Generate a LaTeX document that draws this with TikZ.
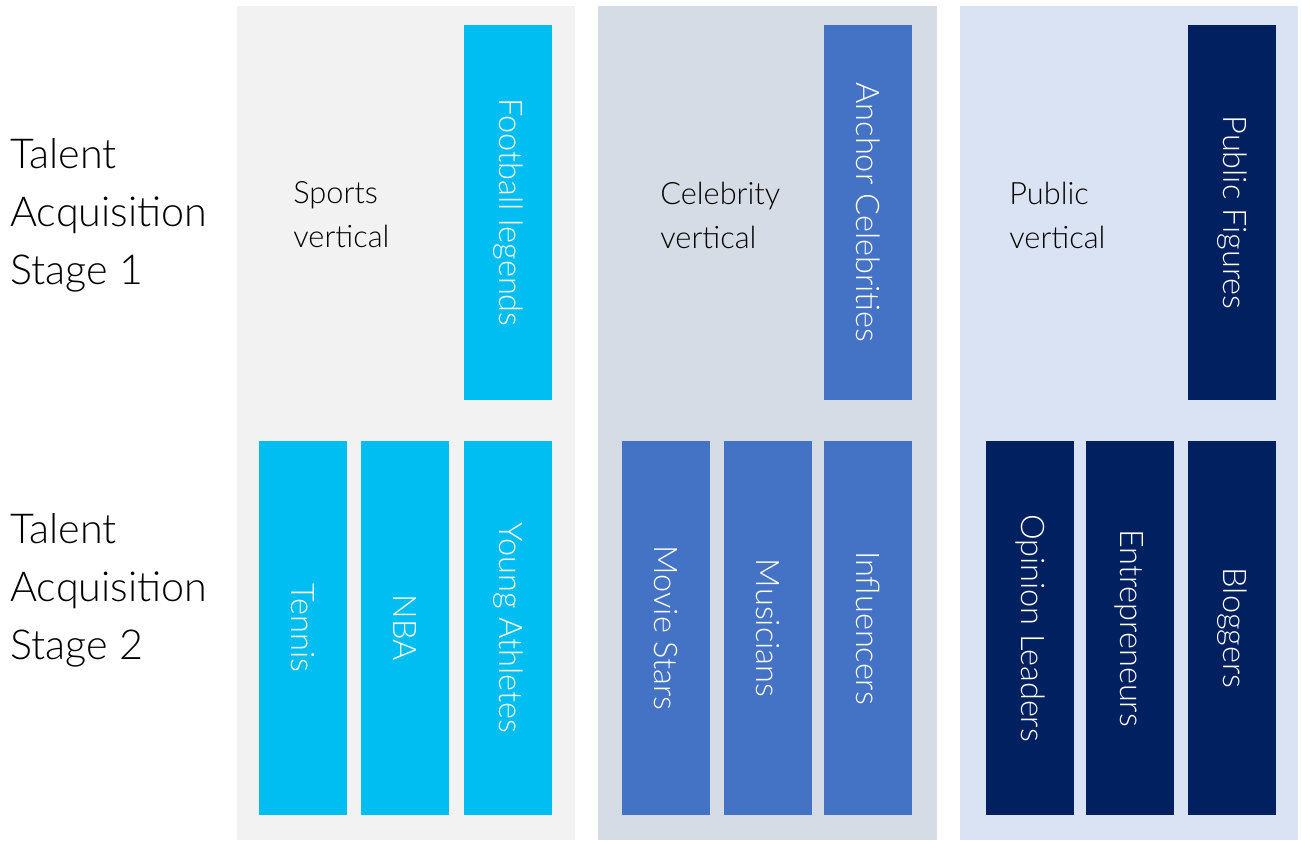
\documentclass[tikz,border=0pt]{standalone}
\usepackage{fontspec}
\setmainfont{Lato}[UprightFont=* Light]
\definecolor{sportsbg}{HTML}{F2F2F2}
\definecolor{celebbg}{HTML}{D6DCE5}
\definecolor{publicbg}{HTML}{DAE3F3}
\definecolor{sportsbar}{HTML}{00BDF2}
\definecolor{celebbar}{HTML}{4472C4}
\definecolor{publicbar}{HTML}{002060}
\tikzset{
  panel/.style={minimum width=6.77cm, minimum height=16.68cm, inner sep=0pt},
  bar/.style={minimum width=7.5cm, minimum height=1.76cm, inner sep=0pt,
    rotate=-90, text=white, font=\fontsize{18.5}{23}\selectfont},
  stage/.style={anchor=west, align=left, inner sep=0pt,
    font=\fontsize{23.5}{33}\selectfont},
  vert/.style={anchor=west, align=left, inner sep=0pt,
    font=\fontsize{17.5}{25}\selectfont}
}

\begin{document}
\begin{tikzpicture}[x=0.02cm, y=-0.02cm]
    \useasboundingbox (0,0) rectangle (1301,841);

    \node[panel, fill=sportsbg] (S) at ( 406, 423) {};
    \node[panel, fill=celebbg]  (C) at ( 767.5, 423) {};
    \node[panel, fill=publicbg] (P) at (1129, 423) {};

    \node[stage] (T1) at (10, 215) {Talent\\Acquisition\\Stage 1};
    \node[stage] (T2) at (10, 590) {Talent\\Acquisition\\Stage 2};

    \node[vert] (SV) at ( 293, 215) {Sports\\vertical};
    \node[vert] (CV) at ( 660, 215) {Celebrity\\vertical};
    \node[vert] (PV) at (1009, 215) {Public\\vertical};

    \node[bar, fill=sportsbar] (S1) at ( 508, 212.5) {Football legends};
    \node[bar, fill=celebbar]  (C1) at ( 868, 212.5) {Anchor Celebrities};
    \node[bar, fill=publicbar] (P1) at (1232, 212.5) {Public Figures};

    \node[bar, fill=sportsbar] (S2) at ( 303, 628) {Tennis};
    \node[bar, fill=sportsbar] (S3) at ( 405, 628) {NBA};
    \node[bar, fill=sportsbar] (S4) at ( 508, 628) {Young Athletes};
    \node[bar, fill=celebbar]  (C2) at ( 666, 628) {Movie Stars};
    \node[bar, fill=celebbar]  (C3) at ( 768, 628) {Musicians};
    \node[bar, fill=celebbar]  (C4) at ( 868, 628) {Influencers};
    \node[bar, fill=publicbar] (P2) at (1030, 628) {Opinion Leaders};
    \node[bar, fill=publicbar] (P3) at (1129.5, 628) {Entrepreneurs};
    \node[bar, fill=publicbar] (P4) at (1232, 628) {Bloggers};
  \end{tikzpicture}
\end{document}
